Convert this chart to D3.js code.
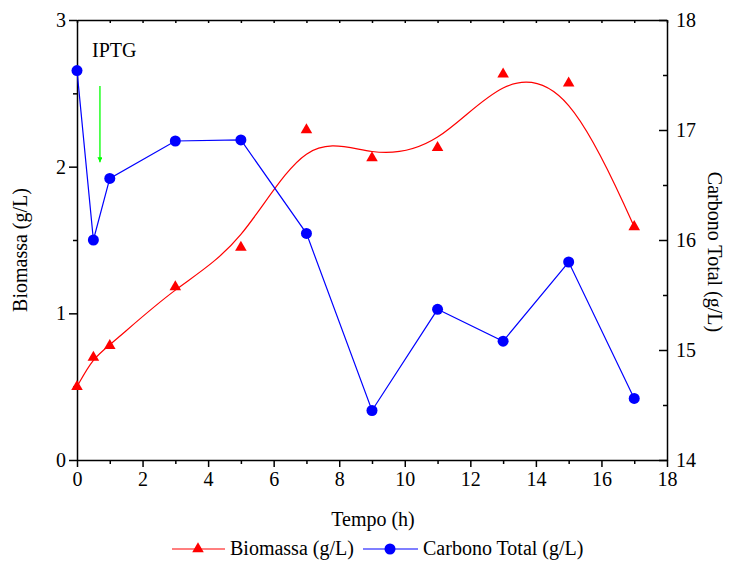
<!DOCTYPE html>
<html>
<head>
<meta charset="utf-8">
<script src="https://cdn.jsdelivr.net/npm/d3@7"></script>
<style>
body { margin: 0; background: #fff; }
svg text { font-family: "Liberation Serif", "Times New Roman", serif; }
.axis path, .axis line { stroke: #000; stroke-width: 1.5; }
</style>
</head>
<body>
<div class="chart"></div>
<script>
// data
var tempo = [0, 0.5, 1, 3, 5, 7, 9, 11, 13, 15, 17];
var biomassa = [0.50, 0.70, 0.78, 1.18, 1.45, 2.25, 2.06, 2.13, 2.63, 2.57, 1.59];
var carbono = [17.54, 16.0, 16.56, 16.90, 16.91, 16.06, 14.45, 15.37, 15.08, 15.80, 14.56];
var xTicks = [0, 2, 4, 6, 8, 10, 12, 14, 16, 18];
var leftTicks = [0, 1, 2, 3];
var rightTicks = [14, 15, 16, 17, 18];

var svgWidth = 729;
var svgHeight = 562;
var margin = { top : 20, right : 62, bottom : 102, left : 77 };
var width = svgWidth - margin.left - margin.right;
var height = svgHeight - margin.top - margin.bottom;
var fontFam = "Liberation Serif, Times New Roman, serif";
var fs = "20px";

var svg = d3.select(".chart").append("svg")
    .attr("width", svgWidth).attr("height", svgHeight);

var chartGroup = svg.append("g").attr("transform", `translate(${margin.left},${margin.top})`);

var x = d3.scaleLinear().domain([0, 18]).range([0, width]);
var yL = d3.scaleLinear().domain([0, 3]).range([height, 0]);
var yR = d3.scaleLinear().domain([14, 18]).range([height, 0]);

function styleAxis(g) {
    g.attr("font-family", fontFam).attr("font-size", fs);
    g.selectAll("text").attr("fill", "#000");
    return g;
}

// bottom axis (outward ticks), minor every 1
chartGroup.append("g").attr("class", "axis")
    .attr("transform", `translate(0,${height})`)
    .call(d3.axisBottom(x).tickValues(d3.range(1, 18, 2)).tickSize(4).tickFormat(""))
    .select(".domain").remove();
styleAxis(chartGroup.append("g").attr("class", "axis")
    .attr("transform", `translate(0,${height})`)
    .call(d3.axisBottom(x).tickValues(xTicks).tickSize(7).tickSizeOuter(0).tickPadding(5)));

// top axis, small inward ticks
chartGroup.append("g").attr("class", "axis")
    .call(d3.axisTop(x).tickValues(d3.range(0, 19, 1)).tickSize(-3).tickSizeOuter(0).tickFormat(""));

// left axis (outward)
chartGroup.append("g").attr("class", "axis")
    .call(d3.axisLeft(yL).tickValues([0.5, 1.5, 2.5]).tickSize(4).tickFormat(""))
    .select(".domain").remove();
styleAxis(chartGroup.append("g").attr("class", "axis")
    .call(d3.axisLeft(yL).tickValues(leftTicks).tickSize(8).tickSizeOuter(0).tickPadding(3).tickFormat(d3.format("d"))));

// right axis (inward ticks)
chartGroup.append("g").attr("class", "axis")
    .attr("transform", `translate(${width},0)`)
    .call(d3.axisRight(yR).tickValues([14.5, 15.5, 16.5, 17.5]).tickSize(-4).tickFormat(""))
    .select(".domain").remove();
var rAxis = styleAxis(chartGroup.append("g").attr("class", "axis")
    .attr("transform", `translate(${width},0)`)
    .call(d3.axisRight(yR).tickValues(rightTicks).tickSize(-8).tickSizeOuter(0).tickFormat(d3.format("d"))));
rAxis.selectAll("text").attr("x", 9);

// biomassa smooth curve + triangles
var pts = tempo.map((t, i) => [t, biomassa[i]]);
chartGroup.append("path")
    .datum(pts)
    .attr("fill", "none").attr("stroke", "#ff0000").attr("stroke-width", 1.2)
    .attr("d", d3.line().x(d => x(d[0])).y(d => yL(d[1])).curve(d3.curveBasis));

var tri = d3.symbol().type(d3.symbolTriangle).size(58);
chartGroup.selectAll(".tri")
    .data(pts).enter().append("path")
    .attr("class", "tri")
    .attr("d", tri)
    .attr("transform", d => `translate(${x(d[0])},${yL(d[1])})`)
    .attr("fill", "#ff0000");

// carbono total line + circles
var cpts = tempo.map((t, i) => [t, carbono[i]]);
chartGroup.append("path")
    .datum(cpts)
    .attr("fill", "none").attr("stroke", "#0000ff").attr("stroke-width", 1.2)
    .attr("d", d3.line().x(d => x(d[0])).y(d => yR(d[1])));

chartGroup.selectAll(".dot")
    .data(cpts).enter().append("circle")
    .attr("class", "dot")
    .attr("cx", d => x(d[0])).attr("cy", d => yR(d[1]))
    .attr("r", 5.5).attr("fill", "#0000ff");

// IPTG annotation
chartGroup.append("text")
    .attr("x", x(0.46)).attr("y", yL(2.75))
    .attr("font-size", fs)
    .text("IPTG");

svg.append("defs").append("marker")
    .attr("id", "arrow").attr("viewBox", "0 0 10 10")
    .attr("refX", 10).attr("refY", 5)
    .attr("markerWidth", 8).attr("markerHeight", 5)
    .attr("markerUnits", "userSpaceOnUse")
    .attr("orient", "auto")
    .append("path").attr("d", "M0,0L10,5L0,10z").attr("fill", "#00ff00");

chartGroup.append("line")
    .attr("x1", x(0.7)).attr("x2", x(0.7))
    .attr("y1", yL(2.55)).attr("y2", yL(2.03))
    .attr("stroke", "#00ff00").attr("stroke-width", 1.3)
    .attr("marker-end", "url(#arrow)");

// axis titles
svg.append("text")
    .attr("transform", `translate(27,250) rotate(-90)`)
    .attr("text-anchor", "middle")
    .attr("font-size", fs)
    .text("Biomassa (g/L)");

svg.append("text")
    .attr("transform", `translate(708,252) rotate(90)`)
    .attr("text-anchor", "middle")
    .attr("font-size", fs)
    .text("Carbono Total (g/L)");

svg.append("text")
    .attr("x", margin.left + width / 2 + 1).attr("y", 526)
    .attr("text-anchor", "middle")
    .attr("font-size", fs)
    .text("Tempo (h)");

// legend
var legend = svg.append("g").attr("transform", "translate(0,549)");
legend.append("line").attr("x1", 172).attr("x2", 225).attr("y1", 0).attr("y2", 0)
    .attr("stroke", "#ff0000").attr("stroke-width", 1.2);
legend.append("path").attr("d", tri).attr("transform", "translate(198,0)").attr("fill", "#ff0000");
legend.append("text").attr("x", 230).attr("y", 6).attr("font-size", fs).text("Biomassa (g/L)");

legend.append("line").attr("x1", 363).attr("x2", 418).attr("y1", 0).attr("y2", 0)
    .attr("stroke", "#0000ff").attr("stroke-width", 1.2);
legend.append("circle").attr("cx", 390).attr("cy", 0).attr("r", 5.5).attr("fill", "#0000ff");
legend.append("text").attr("x", 423).attr("y", 6).attr("font-size", fs).text("Carbono Total (g/L)");
</script>
</body>
</html>
